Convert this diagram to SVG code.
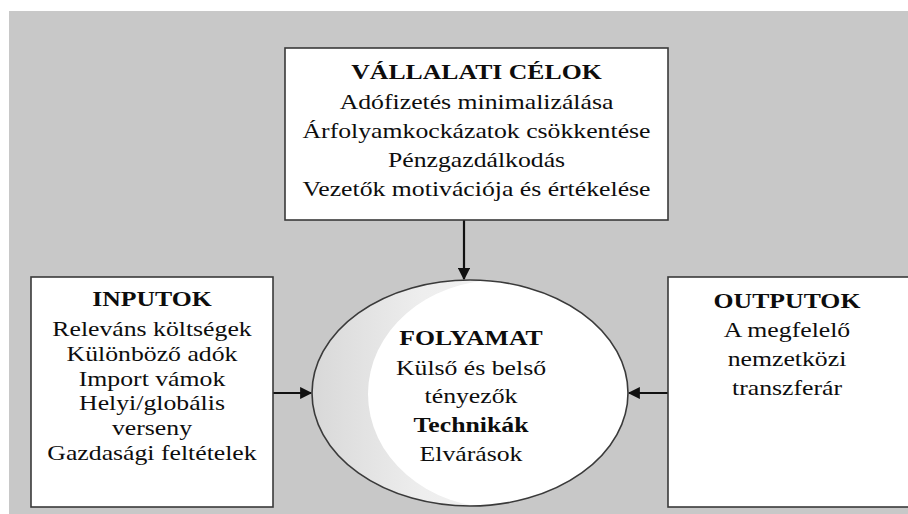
<svg xmlns="http://www.w3.org/2000/svg" width="908" height="514" viewBox="0 0 908 514">
<style>
.box{fill:#ffffff;stroke:#3a3a3a;stroke-width:1.6}
.t{font-family:"Liberation Serif","Times New Roman",serif;font-size:22px;fill:#0d0d0d;text-anchor:middle}
.b{font-weight:bold}
.conn{stroke:#111;stroke-width:2.2;fill:none}
</style>
<defs>
<marker id="ah" viewBox="0 0 10 10" refX="9" refY="5" markerWidth="6" markerHeight="5.5" orient="auto" markerUnits="strokeWidth">
<path d="M0,0 L10,5 L0,10 z" fill="#111"/>
</marker>
<linearGradient id="cres" x1="0" y1="0" x2="1" y2="0">
<stop offset="0" stop-color="#d8d8d8"/>
<stop offset="0.35" stop-color="#eeeeee"/>
<stop offset="1" stop-color="#f7f7f7"/>
</linearGradient>
<clipPath id="ellclip"><ellipse cx="470" cy="393" rx="158" ry="113"/></clipPath>
</defs>
<rect x="0" y="0" width="908" height="514" fill="#ffffff"/>
<rect x="9" y="11" width="899" height="503" fill="#c8c8c8"/>

<g id="connectors">
<line class="conn" x1="464" y1="220" x2="464" y2="279" marker-end="url(#ah)"/>
<line class="conn" x1="273" y1="393" x2="311" y2="393" marker-end="url(#ah)"/>
<line class="conn" x1="668" y1="393" x2="629" y2="393" marker-end="url(#ah)"/>
</g>

<g id="vallalati-celok">
<rect class="box" x="285" y="48" width="383" height="172"/>
<g transform="translate(476.5 0) scale(1.17 1)">
<text class="t b" x="0" y="79">VÁLLALATI CÉLOK</text>
<text class="t" x="0" y="109">Adófizetés minimalizálása</text>
<text class="t" x="0" y="138">Árfolyamkockázatok csökkentése</text>
<text class="t" x="0" y="167">Pénzgazdálkodás</text>
<text class="t" x="0" y="196">Vezetők motivációja és értékelése</text>
</g>
</g>

<g id="inputok">
<rect class="box" x="31" y="277" width="242" height="230"/>
<g transform="translate(152 0) scale(1.17 1)">
<text class="t b" x="0" y="306.5">INPUTOK</text>
<text class="t" x="0" y="336.5">Releváns költségek</text>
<text class="t" x="0" y="361.5">Különböző adók</text>
<text class="t" x="0" y="386.5">Import vámok</text>
<text class="t" x="0" y="410.5">Helyi/globális</text>
<text class="t" x="0" y="435">verseny</text>
<text class="t" x="0" y="460">Gazdasági feltételek</text>
</g>
</g>

<g id="folyamat">
<ellipse cx="470" cy="393" rx="158" ry="113" fill="url(#cres)"/>
<ellipse cx="499" cy="394" rx="131" ry="114" fill="#ffffff" clip-path="url(#ellclip)"/>
<ellipse cx="470" cy="393" rx="158" ry="113" fill="none" stroke="#3a3a3a" stroke-width="1.6"/>
<g transform="translate(471 0) scale(1.17 1)">
<text class="t b" x="0" y="345">FOLYAMAT</text>
<text class="t" x="0" y="375">Külső és belső</text>
<text class="t" x="0" y="403">tényezők</text>
<text class="t b" x="0" y="432">Technikák</text>
<text class="t" x="0" y="461">Elvárások</text>
</g>
</g>

<g id="outputok">
<rect class="box" x="668" y="277" width="250" height="230"/>
<g transform="translate(787 0) scale(1.17 1)">
<text class="t b" x="0" y="308">OUTPUTOK</text>
<text class="t" x="0" y="337.5">A megfelelő</text>
<text class="t" x="0" y="366.5">nemzetközi</text>
<text class="t" x="0" y="395">transzferár</text>
</g>
</g>
</svg>
